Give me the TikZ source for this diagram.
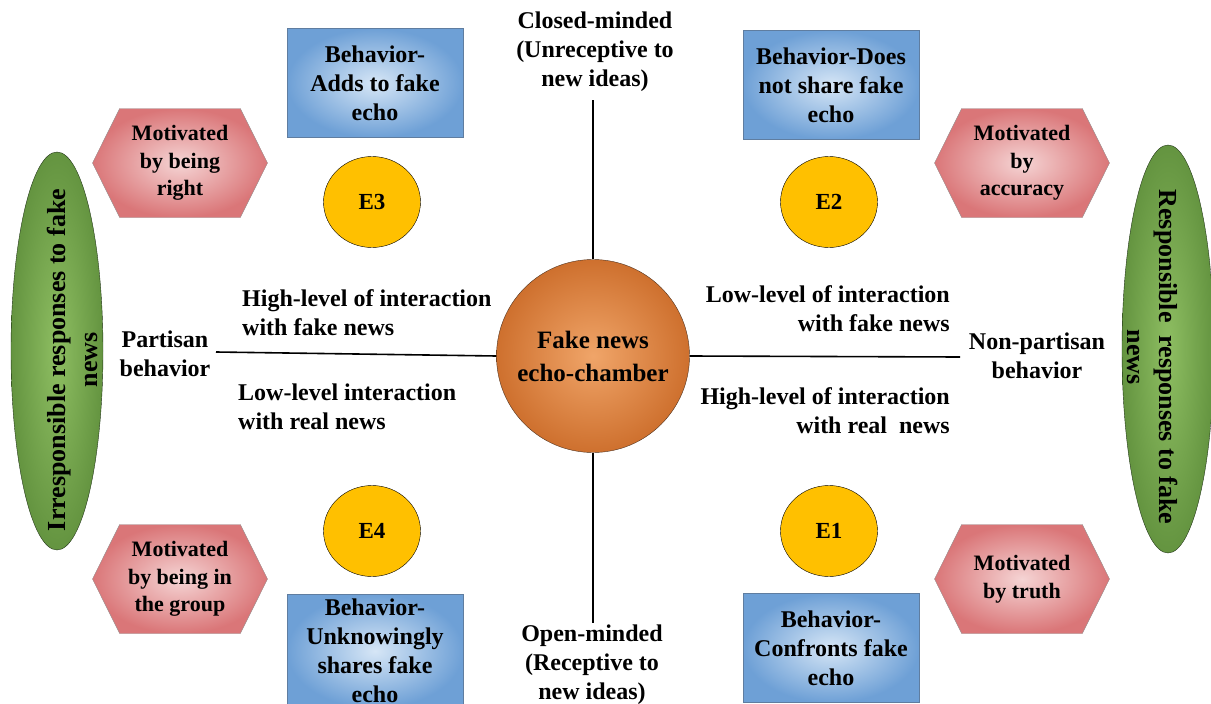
\documentclass[tikz,border=0pt]{standalone}
\usepackage{fontspec}
\setmainfont{Liberation Serif}
\usetikzlibrary{shapes.geometric,shapes.symbols}

\definecolor{boxin}{RGB}{214,230,246}
\definecolor{boxout}{RGB}{110,160,214}
\definecolor{boxedge}{RGB}{95,125,160}
\definecolor{hexin}{RGB}{245,212,212}
\definecolor{hexout}{RGB}{218,118,120}
\definecolor{hexedge}{RGB}{150,140,140}
\definecolor{egg}{RGB}{255,192,0}
\definecolor{leafin}{RGB}{142,190,98}
\definecolor{leafout}{RGB}{100,148,64}
\definecolor{leafedge}{RGB}{35,55,25}
\definecolor{hubin}{RGB}{240,165,105}
\definecolor{hubout}{RGB}{206,112,46}
\definecolor{hubedge}{RGB}{80,50,30}

\begin{document}
\begin{tikzpicture}[x=1pt,y=-1pt,
  txt/.style={font=\bfseries\fontsize{24}{29}\selectfont,align=center,inner sep=0pt},
  axis/.style={line width=1.6pt},
  hub/.style={circle,draw=hubedge,inner color=hubin,outer color=hubout,minimum size=193pt,
    align=center,inner sep=0pt,font=\bfseries\fontsize{25}{33}\selectfont},
  behbox/.style={rectangle,draw=boxedge,inner color=boxin,outer color=boxout,
    minimum width=176pt,minimum height=109pt,txt},
  motive/.style={signal,signal to=east and west,signal pointer angle=127,draw=hexedge,
    inner color=hexin,outer color=hexout,minimum width=175pt,minimum height=109pt,
    align=center,inner sep=0pt,font=\bfseries\fontsize{22}{27.5}\selectfont},
  quad/.style={ellipse,draw=black,fill=egg,minimum width=97pt,minimum height=91pt,
    inner sep=0pt,font=\bfseries\fontsize{23}{27}\selectfont},
  resp/.style={ellipse,draw=leafedge,inner color=leafin,outer color=leafout,
    minimum width=92pt,minimum height=398pt},
  resptxt/.style={txt,font=\bfseries\fontsize{26}{32}\selectfont}
]
\useasboundingbox (0,0) rectangle (1211,704);

% centre and the two axes
\node[hub] (hub) at (593,356) {Fake news\\echo-chamber};
\node[txt] (closed) at (595,52) {Closed-minded\\(Unreceptive to\\new ideas)};
\node[txt] (open) at (592,665) {Open-minded\\(Receptive to\\new ideas)};
\node[txt] (partisan) at (165,354) {Partisan\\behavior};
\node[txt] (nonpartisan) at (1037,356) {Non-partisan\\behavior};
\coordinate (ctop) at (593,100);
\coordinate (cbot) at (593,623);
\coordinate (pleft) at (216,352);
\coordinate (pright) at (960,357);
\draw[axis] (hub.north) -- (ctop);
\draw[axis] (hub.south) -- (cbot);
\draw[axis] (pleft) -- (hub.west);
\draw[axis] (hub.east) -- (pright);

% interaction labels
\node[txt,align=left,anchor=west] (hifake) at (242,313) {High-level of interaction\\with fake news};
\node[txt,align=left,anchor=west] (loreal) at (238,407) {Low-level interaction\\with real news};
\node[txt,align=right,anchor=east] (lofake) at (950,309) {Low-level of interaction\\with fake news};
\node[txt,align=right,anchor=east] (hireal) at (950,411) {High-level of interaction\\with real~~news};

% behaviours
\node[behbox] (b3) at (375,83) {Behavior-\\Adds to fake\\echo};
\node[behbox] (b2) at (831,85) {Behavior-Does\\not share fake\\echo};
\node[behbox,minimum height=114pt] (b4) at (375,651) {Behavior-\\Unknowingly\\shares fake\\echo};
\node[behbox] (b1) at (831,648) {Behavior-\\Confronts fake\\echo};

% motives
\node[motive] (m3) at (180,163) {Motivated\\by being\\right};
\node[motive] (m2) at (1022,163) {Motivated\\by\\accuracy};
\node[motive] (m4) at (180,579) {Motivated\\by being in\\the group};
\node[motive] (m1) at (1022,579) {Motivated\\by truth};

% quadrants
\node[quad] (e3) at (372,202) {E3};
\node[quad] (e2) at (829,202) {E2};
\node[quad] (e4) at (372,531) {E4};
\node[quad] (e1) at (829,531) {E1};

% responses
\node[resp] (irr) at (57,351) {};
\node[resptxt,rotate=90] (irrtxt) at (72,360) {Irresponsible responses to fake\\news};
\node[resp,minimum height=408pt] (res) at (1168,349) {};
\node[resptxt,rotate=-90] (restxt) at (1153,357) {Responsible~~responses to fake\\news};
\end{tikzpicture}
\end{document}
